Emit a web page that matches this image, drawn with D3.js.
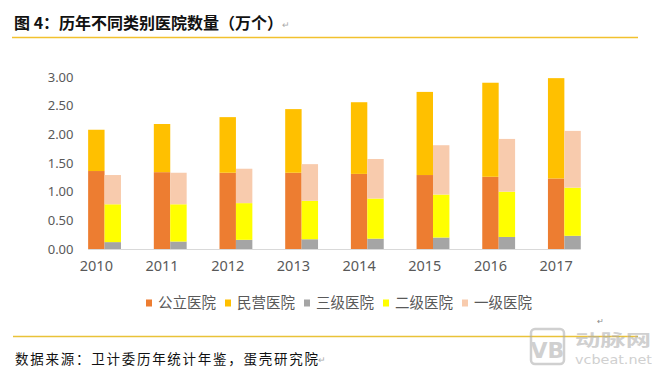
<!DOCTYPE html>
<html>
<head>
<meta charset="utf-8">
<script src="https://cdn.jsdelivr.net/npm/d3@7"></script>
<style>
  body { margin: 0; background: #fff; }
  svg { display: block; }
</style>
</head>
<body>
<div id="chart-area"></div>
<script>
// data (万个)
var years = ["2010", "2011", "2012", "2013", "2014", "2015", "2016", "2017"]
var publicH = [1.36, 1.34, 1.33, 1.33, 1.31, 1.29, 1.26, 1.23]
var privateH = [0.72, 0.84, 0.97, 1.11, 1.25, 1.45, 1.64, 1.75]
var level3 = [0.12, 0.13, 0.16, 0.17, 0.18, 0.20, 0.21, 0.23]
var level2 = [0.66, 0.65, 0.64, 0.67, 0.70, 0.75, 0.79, 0.84]
var level1 = [0.51, 0.55, 0.60, 0.64, 0.69, 0.86, 0.92, 0.99]
var yTicks = [0, 0.5, 1, 1.5, 2, 2.5, 3]

var seriesNames = ["公立医院", "民营医院", "三级医院", "二级医院", "一级医院"]
var colors = ["#ED7D31", "#FFC000", "#A5A5A5", "#FFFF00", "#F8CBAD"]

var W = 665, H = 377
var cjk = "'Noto Sans CJK SC', 'Noto Sans', sans-serif"

var svg = d3.select("#chart-area").append("svg")
    .attr("width", W)
    .attr("height", H)

// title
svg.append("text")
  .attr("x", 14)
  .attr("y", 29)
  .attr("font-family", cjk)
  .attr("font-weight", "bold")
  .attr("font-size", "16px")
  .attr("fill", "#111")
  .text("图 4：历年不同类别医院数量（万个）")

svg.append("text")
  .attr("x", 282)
  .attr("y", 28)
  .attr("font-family", cjk)
  .attr("font-size", "9px")
  .attr("fill", "#aaa")
  .text("↵")

svg.append("line")
  .attr("x1", 12).attr("x2", 638)
  .attr("y1", 37.5).attr("y2", 37.5)
  .attr("stroke", "#F2C12E")
  .attr("stroke-width", 1.5)

// scales
var x = d3.scaleBand()
    .domain(years)
    .range([63.5, 589])
    .paddingInner(0)

var y = d3.scaleLinear()
    .domain([0, 3])
    .range([249, 77])

var barW = x.bandwidth() * 0.25

// table for stacking
var table = years.map(function(yr, i) {
  return {
    year: yr,
    "公立医院": publicH[i], "民营医院": privateH[i],
    "三级医院": level3[i], "二级医院": level2[i], "一级医院": level1[i]
  }
})

var stackA = d3.stack().keys(["公立医院", "民营医院"])(table)
var stackB = d3.stack().keys(["三级医院", "二级医院", "一级医院"])(table)

function bar1X(d) { return x(d.data.year) + x.bandwidth() / 2 - barW / 2 }

var g = svg.append("g")

g.selectAll("g.a")
  .data(stackA)
  .enter().append("g")
    .attr("fill", function(s, i) { return colors[i] })
  .selectAll("rect")
  .data(function(s) { return s })
  .enter().append("rect")
    .attr("x", bar1X)
    .attr("y", function(d) { return y(d[1]) })
    .attr("width", barW)
    .attr("height", function(d) { return y(d[0]) - y(d[1]) })

g.selectAll("g.b")
  .data(stackB)
  .enter().append("g")
    .attr("fill", function(s, i) { return colors[i + 2] })
  .selectAll("rect")
  .data(function(s) { return s })
  .enter().append("rect")
    .attr("x", function(d) { return bar1X(d) + barW })
    .attr("y", function(d) { return y(d[1]) })
    .attr("width", barW)
    .attr("height", function(d) { return y(d[0]) - y(d[1]) })

// baseline
svg.append("line")
  .attr("x1", x(years[0]) + x.bandwidth() / 2 - barW / 2)
  .attr("x2", x(years[years.length - 1]) + x.bandwidth() / 2 + barW * 1.5)
  .attr("y1", y(0) + 0.5).attr("y2", y(0) + 0.5)
  .attr("stroke", "#D9D9D9")
  .attr("stroke-width", 1)

// y axis labels
var yAxisCall = d3.axisLeft(y)
    .tickValues(yTicks)
    .tickSize(0)
    .tickPadding(0)
    .tickFormat(d3.format(".2f"))

var yAxis = svg.append("g")
    .attr("transform", "translate(73.5,0)")
    .call(yAxisCall)
yAxis.select(".domain").remove()
yAxis.selectAll("text")
  .attr("font-family", "'Noto Sans', sans-serif")
  .attr("font-size", "13px")
  .attr("fill", "#595959")

// x axis labels
var xAxisCall = d3.axisBottom(x).tickSize(0).tickPadding(0)
var xAxis = svg.append("g")
    .attr("transform", "translate(0,261)")
    .call(xAxisCall)
xAxis.select(".domain").remove()
xAxis.selectAll("text")
  .attr("font-family", "'Noto Sans', sans-serif")
  .attr("font-size", "14.5px")
  .attr("fill", "#595959")

// legend
var legend = svg.append("g")
var cur = 146
seriesNames.forEach(function(name, i) {
  legend.append("rect")
    .attr("x", cur)
    .attr("y", 299.5)
    .attr("width", 6)
    .attr("height", 7)
    .attr("fill", colors[i])
  var t = legend.append("text")
    .attr("x", cur + 12)
    .attr("y", 308)
    .attr("font-family", cjk)
    .attr("font-size", "14.5px")
    .attr("fill", "#595959")
    .text(name)
  cur += 12 + t.node().getComputedTextLength() + 9
})

// paragraph mark and bottom rule
svg.append("text")
  .attr("x", 597)
  .attr("y", 324)
  .attr("font-family", cjk)
  .attr("font-size", "8px")
  .attr("fill", "#888")
  .text("↵")

svg.append("line")
  .attr("x1", 13).attr("x2", 638)
  .attr("y1", 336.5).attr("y2", 336.5)
  .attr("stroke", "#E9C239")
  .attr("stroke-width", 1.5)

// watermark
var wm = svg.append("g").attr("opacity", 0.55)
wm.append("rect")
  .attr("x", 531).attr("y", 329)
  .attr("width", 33).attr("height", 35)
  .attr("rx", 4)
  .attr("fill", "none")
  .attr("stroke", "#aaa")
  .attr("stroke-width", 2.5)
wm.append("text")
  .attr("x", 547.5).attr("y", 358)
  .attr("text-anchor", "middle")
  .attr("font-family", "'DejaVu Sans', sans-serif")
  .attr("font-weight", "bold")
  .attr("font-size", "22px")
  .attr("fill", "#aaa")
  .text("VB")
wm.append("text")
  .attr("x", 575).attr("y", 346)
  .attr("textLength", 76)
  .attr("lengthAdjust", "spacingAndGlyphs")
  .attr("font-family", cjk)
  .attr("font-weight", "bold")
  .attr("font-size", "16px")
  .attr("fill", "#aaa")
  .text("动脉网")
wm.append("text")
  .attr("x", 575).attr("y", 364)
  .attr("textLength", 77)
  .attr("lengthAdjust", "spacingAndGlyphs")
  .attr("font-family", "'DejaVu Sans', sans-serif")
  .attr("font-size", "13px")
  .attr("fill", "#aaa")
  .text("vcbeat.net")

// source
svg.append("text")
  .attr("x", 15)
  .attr("y", 364)
  .attr("textLength", 303)
  .attr("lengthAdjust", "spacing")
  .attr("font-family", "'Noto Sans CJK SC', serif")
  .attr("font-size", "13.5px")
  .attr("fill", "#111")
  .text("数据来源：卫计委历年统计年鉴，蛋壳研究院")

svg.append("text")
  .attr("x", 318)
  .attr("y", 363)
  .attr("font-family", cjk)
  .attr("font-size", "9px")
  .attr("fill", "#aaa")
  .text("↵")
</script>
</body>
</html>
